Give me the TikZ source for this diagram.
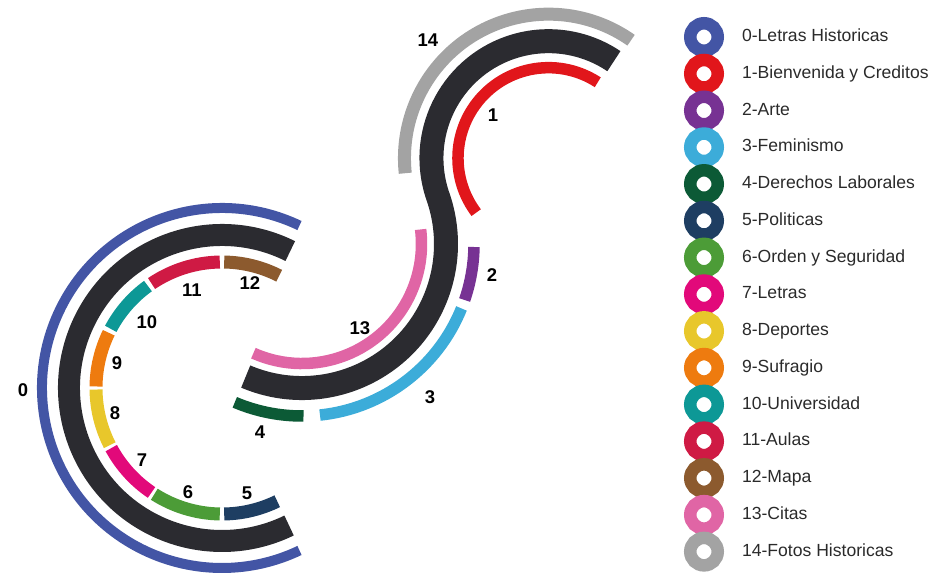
\documentclass[tikz,border=0pt]{standalone}
\usepackage{fontspec}
\setmainfont{Liberation Sans}
\usetikzlibrary{calc,positioning}
\definecolor{ink}{HTML}{2B2B30}
\definecolor{txt}{HTML}{2A2A2A}
\definecolor{letras}{HTML}{4355A5}
\definecolor{bienv}{HTML}{E1161B}
\definecolor{arte}{HTML}{773293}
\definecolor{femin}{HTML}{3CACD9}
\definecolor{derech}{HTML}{0C5A36}
\definecolor{polit}{HTML}{1E3E62}
\definecolor{orden}{HTML}{4C9C37}
\definecolor{letra}{HTML}{E2097A}
\definecolor{deport}{HTML}{E8C72B}
\definecolor{sufrag}{HTML}{EE7B0F}
\definecolor{univ}{HTML}{0D9896}
\definecolor{aulas}{HTML}{CF1A44}
\definecolor{mapa}{HTML}{8C5A2E}
\definecolor{citas}{HTML}{E065A5}
\definecolor{fotos}{HTML}{A3A3A3}
\tikzset{
  band/.style={draw=ink,line width=0.48cm},
  cband/.style={draw=ink,line width=0.44cm},
  seg/.style={line width=0.26cm},
  sseg/.style={line width=0.23cm},
  num/.style={font=\fontsize{10.5}{12}\selectfont\bfseries,text=black,inner sep=0pt},
  keyring/.style={circle,draw=#1,line width=0.25cm,minimum size=0.55cm,inner sep=0pt,outer sep=0pt},
  keytext/.style={font=\fontsize{10}{12}\selectfont,text=txt,inner sep=0pt,text height=7.2pt,text depth=2pt}
}

\begin{document}
\begin{tikzpicture}[x=0.02cm,y=0.02cm]
  \useasboundingbox (0,0) rectangle (948,576);

  % left ring
  \coordinate (C) at (222,188);
  \draw[draw=letras,line width=0.2cm] (C) ++(64.5:180) arc[start angle=64.5,end angle=295.5,radius=180];
  \draw[cband] (C) ++(63.5:153) arc[start angle=63.5,end angle=296,radius=153];
  \draw[seg,draw=mapa]   (C) ++(63:126)  arc[start angle=63,end angle=89,radius=126];
  \draw[seg,draw=aulas]  (C) ++(91:126)  arc[start angle=91,end angle=124,radius=126];
  \draw[seg,draw=univ]   (C) ++(126:126) arc[start angle=126,end angle=152,radius=126];
  \draw[seg,draw=sufrag] (C) ++(154:126) arc[start angle=154,end angle=179.3,radius=126];
  \draw[seg,draw=deport] (C) ++(180.7:126) arc[start angle=180.7,end angle=207,radius=126];
  \draw[seg,draw=letra]  (C) ++(208.5:126) arc[start angle=208.5,end angle=236,radius=126];
  \draw[seg,draw=orden]  (C) ++(237.5:126) arc[start angle=237.5,end angle=269,radius=126];
  \draw[seg,draw=polit]  (C) ++(271:126) arc[start angle=271,end angle=296,radius=126];

  % the S
  \coordinate (L) at (302,332);
  \coordinate (U) at ($(L)+(19.2:261)$);
  \draw[band] (L) ++(247:144) arc[start angle=247,end angle=379.2,radius=144]
    arc[start angle=199.2,end angle=56,radius=117];
  \draw[sseg,draw=citas]  (L) ++(246:119.5) arc[start angle=246,end angle=367,radius=119.5];
  \draw[sseg,draw=derech] (L) ++(247:172) arc[start angle=247,end angle=270.5,radius=172];
  \draw[sseg,draw=femin]  (L) ++(276:172) arc[start angle=276,end angle=338,radius=172];
  \draw[sseg,draw=arte]   (L) ++(341:172) arc[start angle=341,end angle=359,radius=172];
  \draw[sseg,draw=bienv]  (U) ++(57:90.5) arc[start angle=57,end angle=217,radius=90.5];
  \draw[seg,draw=fotos]   (U) ++(55:144) arc[start angle=55,end angle=186,radius=144];

  % numbers
  \node[num] (n0) at (23,186) {0};
  \node[num] (n1) at (493,461) {1};
  \node[num] (n2) at (492,301) {2};
  \node[num] (n3) at (430,179) {3};
  \node[num] (n4) at (260,144) {4};
  \node[num] (n5) at (247,83) {5};
  \node[num] (n6) at (188,84) {6};
  \node[num] (n7) at (142,116) {7};
  \node[num] (n8) at (115,163) {8};
  \node[num] (n9) at (117,213) {9};
  \node[num] (n10) at (147,254) {10};
  \node[num] (n11) at (192,286) {11};
  \node[num] (n12) at (250,293) {12};
  \node[num] (n13) at (360,248) {13};
  \node[num] (n14) at (428,536) {14};

  % legend
  \node[keyring=letras] (key0) at (704,539.00) {};
  \node[keyring=bienv]  (key1) at (704,502.24) {};
  \node[keyring=arte]   (key2) at (704,465.48) {};
  \node[keyring=femin]  (key3) at (704,428.72) {};
  \node[keyring=derech] (key4) at (704,391.96) {};
  \node[keyring=polit]  (key5) at (704,355.20) {};
  \node[keyring=orden]  (key6) at (704,318.44) {};
  \node[keyring=letra]  (key7) at (704,281.68) {};
  \node[keyring=deport] (key8) at (704,244.92) {};
  \node[keyring=sufrag] (key9) at (704,208.16) {};
  \node[keyring=univ]   (key10) at (704,171.40) {};
  \node[keyring=aulas]  (key11) at (704,134.64) {};
  \node[keyring=mapa]   (key12) at (704,97.88) {};
  \node[keyring=citas]  (key13) at (704,61.12) {};
  \node[keyring=fotos]  (key14) at (704,24.36) {};

  \node[keytext,right=0.48cm of key0] (txt0) {0-Letras Historicas};
  \node[keytext,right=0.48cm of key1] (txt1) {1-Bienvenida y Creditos};
  \node[keytext,right=0.48cm of key2] (txt2) {2-Arte};
  \node[keytext,right=0.48cm of key3] (txt3) {3-Feminismo};
  \node[keytext,right=0.48cm of key4] (txt4) {4-Derechos Laborales};
  \node[keytext,right=0.48cm of key5] (txt5) {5-Politicas};
  \node[keytext,right=0.48cm of key6] (txt6) {6-Orden y Seguridad};
  \node[keytext,right=0.48cm of key7] (txt7) {7-Letras};
  \node[keytext,right=0.48cm of key8] (txt8) {8-Deportes};
  \node[keytext,right=0.48cm of key9] (txt9) {9-Sufragio};
  \node[keytext,right=0.48cm of key10] (txt10) {10-Universidad};
  \node[keytext,right=0.48cm of key11] (txt11) {11-Aulas};
  \node[keytext,right=0.48cm of key12] (txt12) {12-Mapa};
  \node[keytext,right=0.48cm of key13] (txt13) {13-Citas};
  \node[keytext,right=0.48cm of key14] (txt14) {14-Fotos Historicas};
\end{tikzpicture}
\end{document}
